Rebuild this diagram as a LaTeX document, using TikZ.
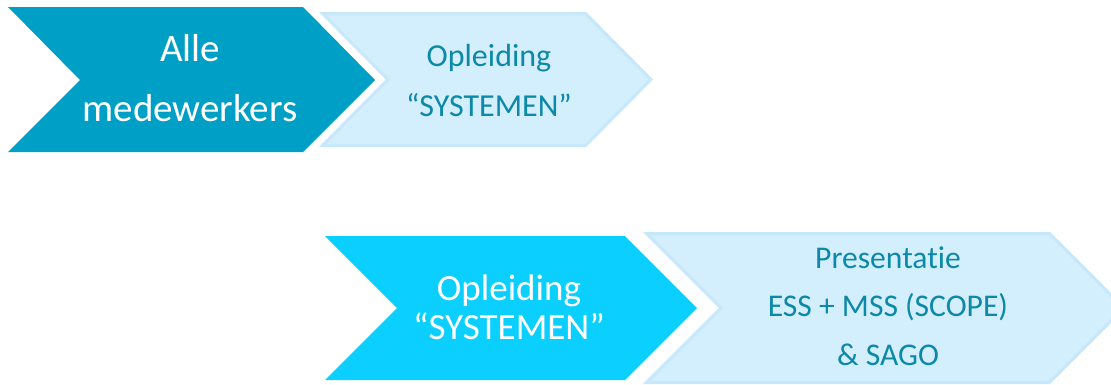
\documentclass[tikz,border=0pt]{standalone}
\usepackage{fontspec}
\setmainfont{Carlito}[Ligatures=NoCommon]
\definecolor{darkteal}{HTML}{00A0C6}
\definecolor{brightcyan}{HTML}{0BD0FF}
\definecolor{paleblue}{HTML}{D3EEFC}
\definecolor{paleedge}{HTML}{C6E8FA}
\definecolor{labelteal}{HTML}{0C89A9}
\begin{document}
\begin{tikzpicture}[x=1pt,y=-1pt]
\tikzstyle{darkarrow} = [fill=darkteal]
\tikzstyle{cyanarrow} = [fill=brightcyan]
\tikzstyle{palearrow} = [fill=paleblue, draw=paleedge, line width=3pt, line join=miter]
\tikzstyle{whitelabel} = [align=center, text=white]
\tikzstyle{palelabel} = [align=center, text=labelteal]

\useasboundingbox (0,0) rectangle (1111,384);

% top row
\fill[darkarrow] (8,7) -- (303,7) -- (375,80) -- (303,152) -- (8,152) -- (80,80) -- cycle;
\draw[palearrow] (322.5,13.5) -- (585.5,13.5) -- (651,79.5) -- (585.5,145.5) -- (322.5,145.5) -- (388,79.5) -- cycle;

% bottom row
\fill[cyanarrow] (325,236) -- (625,236) -- (697,308) -- (625,380) -- (325,380) -- (397,308) -- cycle;
\draw[palearrow] (646.5,233.5) -- (1049.5,233.5) -- (1124,308) -- (1049.5,382.5) -- (646.5,382.5) -- (721,308) -- cycle;

% labels
\node[whitelabel, font=\fontsize{39}{60}\selectfont] (alle) at (190,78) {Alle\\medewerkers};
\node[palelabel, font=\fontsize{32}{50}\selectfont] (opleiding1) at (489,80) {Opleiding\\“SYSTEMEN”};
\node[whitelabel, font=\fontsize{37}{39}\selectfont] (opleiding2) at (509,307.5) {Opleiding\\“SYSTEMEN”};
\node[palelabel, font=\fontsize{31.6}{48.5}\selectfont] (presentatie) at (888,306) {Presentatie\\ESS + MSS (SCOPE)\\\& SAGO};

\end{tikzpicture}
\end{document}
